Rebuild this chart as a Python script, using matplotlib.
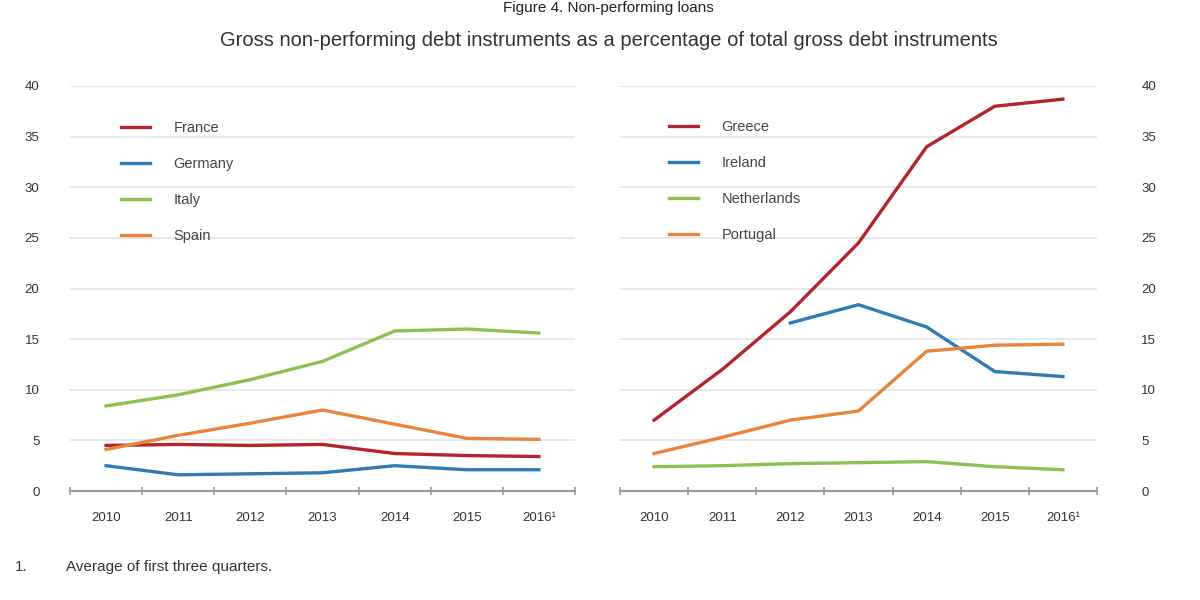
import matplotlib
matplotlib.use("Agg")
import matplotlib.pyplot as plt
import numpy as np

plt.rcParams['font.family'] = ['Liberation Sans', 'DejaVu Sans']

years = ["2010", "2011", "2012", "2013", "2014", "2015", "2016¹"]

france = [4.5, 4.6, 4.5, 4.6, 3.7, 3.5, 3.4]
germany = [2.5, 1.6, 1.7, 1.8, 2.5, 2.1, 2.1]
italy = [8.4, 9.5, 11.0, 12.8, 15.8, 16.0, 15.6]
spain = [4.1, 5.5, 6.7, 8.0, 6.6, 5.2, 5.1]

greece = [7.0, 12.0, 17.7, 24.5, 34.0, 38.0, 38.7]
ireland = [np.nan, np.nan, 16.6, 18.4, 16.2, 11.8, 11.3]
netherlands = [2.4, 2.5, 2.7, 2.8, 2.9, 2.4, 2.1]
portugal = [3.7, 5.3, 7.0, 7.9, 13.8, 14.4, 14.5]

yticks = [0, 5, 10, 15, 20, 25, 30, 35, 40]

c_red = '#b3242f'
c_blue = '#2f7bb5'
c_green = '#8cc152'
c_orange = '#e9853b'

fig = plt.figure(figsize=(12, 6), dpi=100)
axL = fig.add_axes([70/1200, 1-491/600, 505/1200, 405/600])
axR = fig.add_axes([620/1200, 1-491/600, 477/1200, 405/600])

def style(ax, right=False):
    ax.set_ylim(0, 40)
    ax.set_xlim(-0.5, len(years) - 0.5)
    ax.set_yticks(yticks)
    ax.yaxis.grid(True, color='#e4e4e4', lw=1.2)
    ax.set_axisbelow(True)
    for s in ['top', 'right', 'left']:
        ax.spines[s].set_visible(False)
    ax.spines['bottom'].set_color('#9a9a9a')
    ax.spines['bottom'].set_linewidth(1.5)
    ax.set_xticks(range(len(years)))
    ax.set_xticklabels(years)
    ax.set_xticks(np.arange(-0.5, len(years), 1.0), minor=True)
    ax.tick_params(axis='x', which='major', length=0, pad=15, labelsize=9.5, colors='#333333')
    ax.tick_params(axis='x', which='minor', length=6, direction='inout', color='#9a9a9a', width=1.2)
    ax.tick_params(axis='y', length=0, labelsize=9.5, colors='#333333', pad=22)
    if right:
        ax.yaxis.tick_right()
        ax.tick_params(axis='y', pad=32)

x = np.arange(len(years))
style(axL)
style(axR, right=True)

lw = 2.4
axL.plot(x, france, color=c_red, lw=lw, label='France')
axL.plot(x, germany, color=c_blue, lw=lw, label='Germany')
axL.plot(x, italy, color=c_green, lw=lw, label='Italy')
axL.plot(x, spain, color=c_orange, lw=lw, label='Spain')

axR.plot(x, greece, color=c_red, lw=lw, label='Greece')
axR.plot(x, ireland, color=c_blue, lw=lw, label='Ireland')
axR.plot(x, netherlands, color=c_green, lw=lw, label='Netherlands')
axR.plot(x, portugal, color=c_orange, lw=lw, label='Portugal')

for ax, loc in [(axL, (0.075, 0.58)), (axR, (0.075, 0.583))]:
    leg = ax.legend(loc='lower left', bbox_to_anchor=loc, frameon=False,
                    handlelength=2.0, handletextpad=1.6, labelspacing=1.5,
                    fontsize=10.5)
    for t in leg.get_texts():
        t.set_color('#444444')

fig.text(0.507, 0.999, 'Figure 4. Non-performing loans', ha='center', va='top',
         fontsize=11, color='#222222')
fig.text(0.507, 0.932, 'Gross non-performing debt instruments as a percentage of total gross debt instruments',
         ha='center', va='center', fontsize=14.5, color='#333333')
fig.text(15/1200, 1-567/600, '1.', ha='left', va='center', fontsize=11, color='#333333')
fig.text(66/1200, 1-567/600, 'Average of first three quarters.', ha='left', va='center',
         fontsize=11, color='#333333')

fig.savefig('out.png', dpi=100, facecolor='white')
